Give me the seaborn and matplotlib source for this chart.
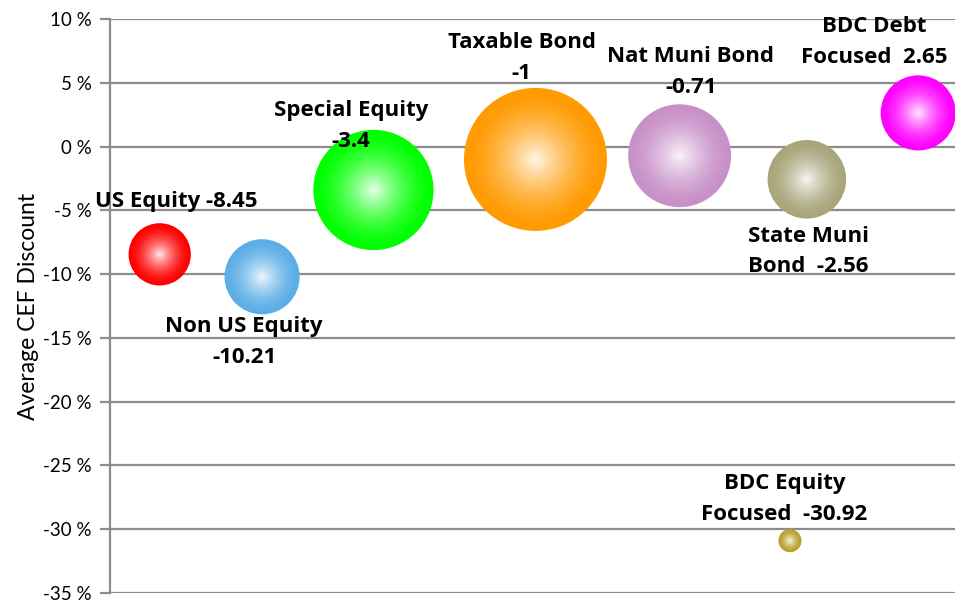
import numpy as np
import seaborn as sns
import matplotlib.pyplot as plt
from matplotlib.colors import to_rgb

sns.set_style("white")
plt.rcParams['font.family'] = ['Lato', 'DejaVu Sans']
plt.rcParams['text.color'] = 'black'
plt.rcParams['axes.labelcolor'] = 'black'
plt.rcParams['ytick.labelcolor'] = 'black'

# data
categories = ["US Equity", "Non US Equity", "Special Equity", "Taxable Bond",
              "Nat Muni Bond", "State Muni Bond", "BDC Debt Focused", "BDC Equity Focused"]
label_text = ["US Equity -8.45", "Non US Equity\n-10.21", "Special Equity\n-3.4",
              "Taxable Bond\n-1", "Nat Muni Bond\n-0.71", "State Muni\nBond  -2.56",
              "BDC Debt\nFocused  2.65", "BDC Equity\nFocused  -30.92"]
x_vals = [0.50, 1.53, 2.65, 4.28, 5.73, 7.01, 8.13, 6.84]
discount = [-8.45, -10.21, -3.4, -1.0, -0.71, -2.56, 2.65, -30.92]
fund_count = [22, 32, 82, 116, 60, 35, 32, 3]
y_ticks = [10, 5, 0, -5, -10, -15, -20, -25, -30, -35]

colors = ["#ff0000", "#5aaee6", "#00ff00", "#ff9a00",
          "#c890c8", "#a8a57a", "#ff00ff", "#b8a22a"]
# label offsets in points (dx, dy) from the bubble centre
offsets = [(12, 38), (-13, -47), (-16, 46), (-10, 73), (8, 60), (1, -52), (-32, 51), (-4, 30)]

df = {"x": x_vals, "y": discount, "cat": categories, "n": fund_count}

fig = plt.figure(figsize=(9.55, 6.03), dpi=100)
ax = fig.add_axes([110 / 955, 0.0171, 1 - 110 / 955, 0.951])

k = 91.4
smin, smax = min(fund_count) * k, max(fund_count) * k

n_layers = 30
for i in range(n_layers):
    r = 1 - i / n_layers
    t = 0.93 * (1 - r) ** 1.6
    pal = {c: tuple(np.array(to_rgb(col)) * (1 - t) + t) for c, col in zip(categories, colors)}
    sns.scatterplot(data=df, x="x", y="y", hue="cat", palette=pal, size="n",
                    sizes=(smin * r * r, smax * r * r), linewidth=0, legend=False,
                    ax=ax, zorder=3 + i)

for lab, xv, yv, off in zip(label_text, x_vals, discount, offsets):
    ax.annotate(lab, (xv, yv), xytext=off, textcoords="offset points",
                ha="center", va="center", fontsize=16, fontweight="bold",
                family=["Open Sans", "DejaVu Sans"], linespacing=1.62, zorder=50)

ax.set_xlim(0, 8.5)
ax.set_ylim(-35, 10)
ax.set_yticks(y_ticks)
ax.set_yticklabels([f"{v} %" for v in y_ticks], fontsize=13.5)
ax.set_xticks([])
ax.set_xlabel("")
ax.set_ylabel("Average CEF Discount", fontsize=16.5, labelpad=3)
ax.grid(axis="y", color="#8c8c8c", linewidth=1.6)
ax.set_axisbelow(True)
for side in ["top", "right", "bottom"]:
    ax.spines[side].set_visible(False)
ax.spines["left"].set_color("#8c8c8c")
ax.spines["left"].set_linewidth(1.6)
ax.tick_params(axis="y", length=7, width=1.6, color="#8c8c8c", pad=6, left=True)

fig.savefig("out.png", dpi=100)
